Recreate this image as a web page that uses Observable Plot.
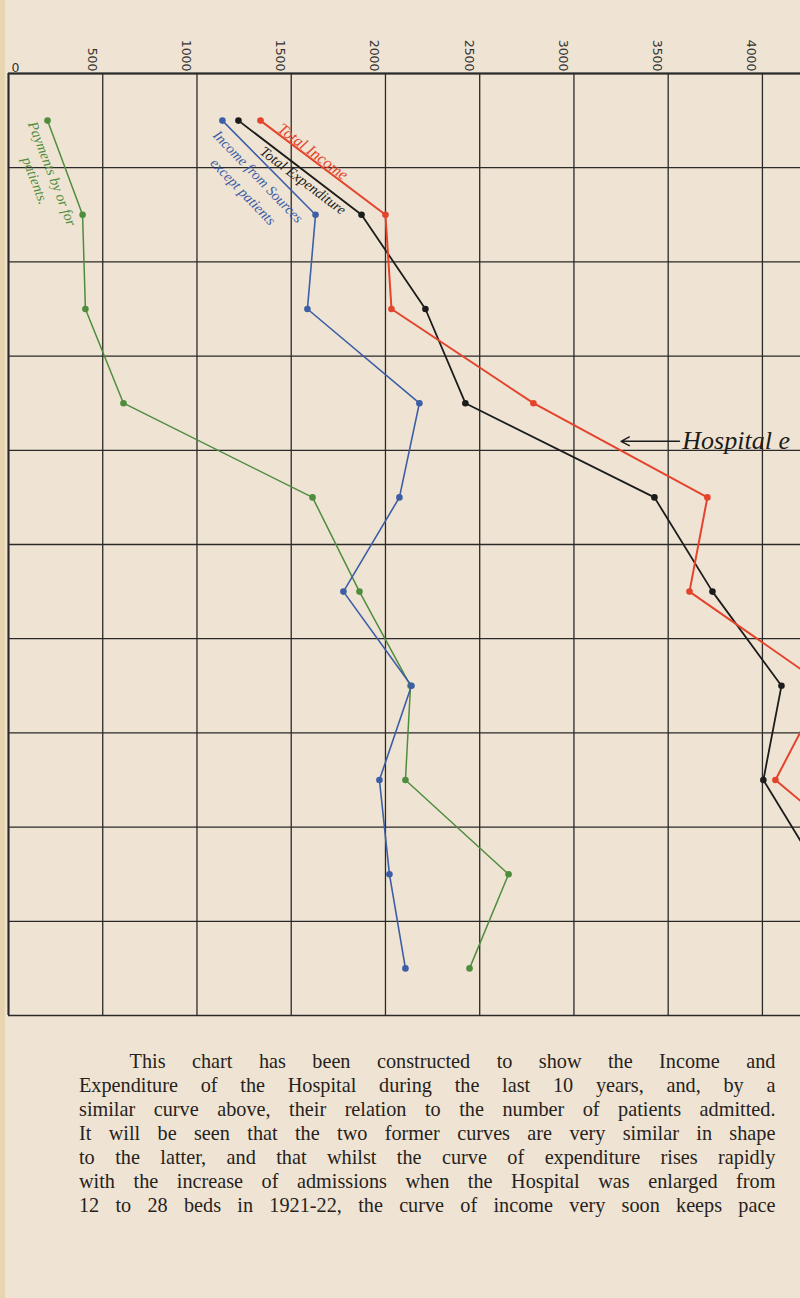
<!DOCTYPE html>
<html>
<head>
<meta charset="utf-8">
<script src="https://cdn.jsdelivr.net/npm/d3@7"></script>
<script src="https://cdn.jsdelivr.net/npm/@observablehq/plot@0.6"></script>
<style>
  html, body { margin: 0; padding: 0; background: #efe4d3; overflow: hidden; }
  body { width: 800px; height: 1298px; position: relative; }
  #leftstrip { position: absolute; left: 0; top: 0; width: 5px; height: 1298px; background: #e6d5ae; }
  #chart { position: absolute; left: 0; top: 0; }
  #para { position: absolute; left: 79px; top: 1049px; width: 757px;
          transform: scaleX(0.92); transform-origin: 0 0;
          font-family: "Liberation Serif", "Times New Roman", serif; font-size: 22px;
          color: #262220; line-height: 24px; }
  #para div { text-align: justify; text-align-last: justify; white-space: nowrap; }
  #para div.first { padding-left: 55px; }
</style>
</head>
<body>
<div id="leftstrip"></div>
<div id="chart"></div>
<div id="para">
  <div class="first">This chart has been constructed to show the Income and</div>
  <div>Expenditure of the Hospital during the last 10 years, and, by a</div>
  <div>similar curve above, their relation to the number of patients admitted.</div>
  <div>It will be seen that the two former curves are very similar in shape</div>
  <div>to the latter, and that whilst the curve of expenditure rises rapidly</div>
  <div>with the increase of admissions when the Hospital was enlarged from</div>
  <div>12 to 28 beds in 1921-22, the curve of income very soon keeps pace</div>
</div>
<script>
// Rows: ten years, one per horizontal band
const years = [1918, 1919, 1920, 1921, 1922, 1923, 1924, 1925, 1926, 1927];
// Amounts (£)
const payments    = [207, 393, 408, 610, 1613, 1862, 2133, 2106, 2653, 2446];
const otherIncome = [1135, 1629, 1586, 2180, 2074, 1777, 2138, 1968, 2021, 2106];
const totalIncome = [1337, 2000, 2032, 2785, 3708, 3613, 4330, 4069, 4670, 4550];
const expenditure = [1220, 1873, 2212, 2424, 3427, 3735, 4101, 4005, 4310, 4450];
// Top scale labels
const xTicks = [0, 500, 1000, 1500, 2000, 2500, 3000, 3500, 4000];
const seriesNames = ["Payments by or for patients", "Income from Sources except patients", "Total Expenditure", "Total Income"];
const enlargedBetween = [1921, 1922];

const seriesValues = [payments, otherIncome, expenditure, totalIncome];
const colors = {
  "Payments by or for patients": "#4f8d3e",
  "Income from Sources except patients": "#3c5ea6",
  "Total Expenditure": "#1c1c1c",
  "Total Income": "#e4432c"
};
const widths = {
  "Payments by or for patients": 1.5,
  "Income from Sources except patients": 1.6,
  "Total Expenditure": 1.8,
  "Total Income": 2
};
const table = {};
seriesNames.forEach((name, i) => {
  table[name] = years.map((y, j) => ({year: y, value: seriesValues[i][j], series: name}));
});

const rowBounds = years.map(y => y - 0.5).concat([years[years.length - 1] + 0.5]);
const xMax = 4202;
const gridColor = "#2a2a2a";

function mid(vals) {
  return [{x: (vals[0] + vals[1]) / 2, y: (years[0] + years[1]) / 2}];
}
const hand = {fontFamily: "Liberation Serif, serif", fontStyle: "italic", fontSize: 14.5};

const marks = [
  Plot.ruleY(rowBounds, {x1: 0, x2: xMax, stroke: gridColor, strokeWidth: 1.3}),
  Plot.ruleY([rowBounds[0]], {x1: 0, x2: xMax, stroke: gridColor, strokeWidth: 2}),
  Plot.ruleX(xTicks, {y1: rowBounds[0], y2: rowBounds[rowBounds.length - 1], stroke: gridColor, strokeWidth: 1.3}),
  Plot.ruleX([0], {y1: rowBounds[0], y2: rowBounds[rowBounds.length - 1], stroke: gridColor, strokeWidth: 2}),
  Plot.text(xTicks.slice(1), {x: d => d, frameAnchor: "top", text: d => String(d), rotate: 90,
    textAnchor: "end", lineAnchor: "middle", dx: -11, dy: -2, fontSize: 12.5,
    fontFamily: "DejaVu Sans, sans-serif", fill: "#333"}),
  Plot.text([0], {x: d => d, frameAnchor: "top", text: d => String(d), dx: 7, dy: -10,
    fontSize: 12.5, fontFamily: "DejaVu Sans, sans-serif", fill: "#333"}),
];

seriesNames.forEach(name => {
  marks.push(Plot.line(table[name], {x: "value", y: "year", stroke: colors[name], strokeWidth: widths[name], clip: true}));
  marks.push(Plot.dot(table[name], {x: "value", y: "year", fill: colors[name], r: 3.3, clip: true}));
});

// Handwritten labels along the first segment of each curve
marks.push(
  Plot.text(mid(payments), {x: "x", y: "y", text: () => "Payments by or for", rotate: 69, dx: -13, dy: 6, fill: colors[seriesNames[0]], ...hand}),
  Plot.text(mid(payments), {x: "x", y: "y", text: () => "patients.", rotate: 69, dx: -30, dy: 13, fill: colors[seriesNames[0]], ...hand}),
  Plot.text(mid(otherIncome), {x: "x", y: "y", text: () => "Income from Sources", rotate: 46, dx: -11, dy: 9, fill: colors[seriesNames[1]], ...hand}),
  Plot.text(mid(otherIncome), {x: "x", y: "y", text: () => "except patients", rotate: 46, dx: -26, dy: 24, fill: colors[seriesNames[1]], ...hand}),
  Plot.text(mid(expenditure), {x: "x", y: "y", text: () => "Total Expenditure", rotate: 37, dx: 3, dy: 13, fill: colors[seriesNames[2]], ...hand}),
  Plot.text(mid(totalIncome), {x: "x", y: "y", text: () => "Total Income", rotate: 37, dx: -10, dy: -16, fill: colors[seriesNames[3]], ...hand, fontSize: 16})
);

// "Hospital enlarged" annotation on the 1921/22 boundary (cut at the page edge in the original)
const enlargedY = (enlargedBetween[0] + enlargedBetween[1]) / 2;
marks.push(
  Plot.arrow([{x1: 3560, x2: 3250, y: enlargedY}], {x1: "x1", x2: "x2", y1: "y", y2: "y", dy: -9,
    stroke: "#1c1c1c", strokeWidth: 1.4, headLength: 10, headAngle: 55}),
  Plot.text([{x: 3575, y: enlargedY}], {x: "x", y: "y", text: () => "Hospital e", textAnchor: "start",
    lineAnchor: "bottom", dy: -1, fill: "#1c1c1c", fontFamily: "Liberation Serif, serif", fontStyle: "italic", fontSize: 26})
);

const chart = Plot.plot({
  width: 800,
  height: 1025,
  marginTop: 73,
  marginBottom: 10,
  marginLeft: 8,
  marginRight: 0,
  x: {domain: [0, xMax], axis: null},
  y: {domain: [rowBounds[0], rowBounds[rowBounds.length - 1]], reverse: true, axis: null},
  style: {background: "transparent", overflow: "visible"},
  marks
});
document.getElementById("chart").appendChild(chart);
</script>
</body>
</html>
